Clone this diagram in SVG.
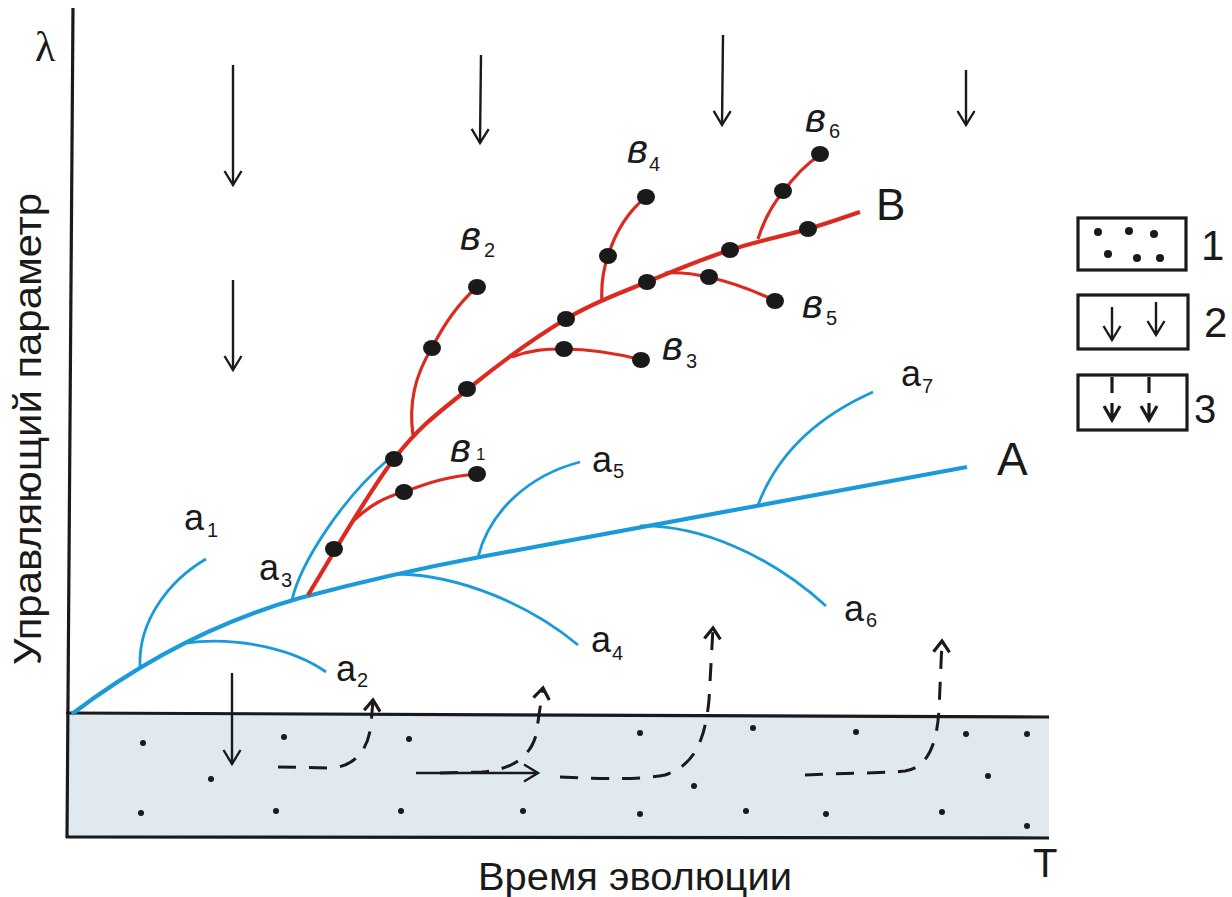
<svg xmlns="http://www.w3.org/2000/svg" width="1232" height="897" viewBox="0 0 1232 897">
<style>
.t{font-family:"Liberation Sans",Arial,sans-serif;fill:#1a1a1a}
.ax{stroke:#1a1a1a;stroke-width:3.2;fill:none}
.blue{stroke:#1a9ad8;fill:none;stroke-width:2.8;stroke-linecap:butt}
.blueM{stroke:#1a9ad8;fill:none;stroke-width:4.2}
.red{stroke:#dc2a20;fill:none;stroke-width:3.2;stroke-linecap:butt}
.redM{stroke:#dc2a20;fill:none;stroke-width:4.2}
.dot{fill:#1a1a1a}
.arr{stroke:#1a1a1a;stroke-width:2.4;fill:none;marker-end:url(#thin)}
.dash{stroke:#1a1a1a;stroke-width:3;fill:none;stroke-dasharray:18 13;marker-end:url(#chev)}
.sd{fill:#1a1a1a}
</style>
<defs>
<marker id="thin" markerUnits="userSpaceOnUse" orient="auto" overflow="visible" markerWidth="20" markerHeight="20" refX="0" refY="0">
<path d="M-14,-8.5 L0,0 L-14,8.5" fill="none" stroke="#1a1a1a" stroke-width="2.4"/>
</marker>
<marker id="chev" markerUnits="userSpaceOnUse" orient="auto" overflow="visible" markerWidth="20" markerHeight="20" refX="0" refY="0">
<path d="M-11,-8 L0,0 L-11,8" fill="none" stroke="#1a1a1a" stroke-width="3.2" stroke-dasharray="none"/>
</marker>
</defs>
<rect width="1232" height="897" fill="#ffffff"/>

<g id="substrate">
<path d="M66,713 L1049,717 L1049,838 L66,837 Z" fill="#e0e9ef"/>
<line x1="66" y1="713" x2="1049" y2="717" class="ax"/>
<line x1="66" y1="837" x2="1049" y2="838" class="ax"/>
<g class="sd">
<circle cx="143" cy="743" r="3"/><circle cx="284" cy="737" r="3"/><circle cx="409" cy="739" r="3"/>
<circle cx="211" cy="779" r="3"/><circle cx="141" cy="813" r="3"/><circle cx="276" cy="811" r="3"/>
<circle cx="401" cy="811" r="3"/><circle cx="523" cy="811" r="3"/><circle cx="640" cy="733" r="3"/>
<circle cx="753" cy="728" r="3"/><circle cx="856" cy="732" r="3"/><circle cx="966" cy="734" r="3"/>
<circle cx="1027" cy="734" r="3"/><circle cx="694" cy="786" r="3"/><circle cx="988" cy="776" r="3"/>
<circle cx="640" cy="814" r="3"/><circle cx="746" cy="811" r="3"/><circle cx="826" cy="814" r="3"/>
<circle cx="942" cy="812" r="3"/><circle cx="1027" cy="826" r="3"/>
</g>
</g>

<g id="axes">
<line x1="73" y1="8" x2="67" y2="838" class="ax"/>
<text x="35" y="61" font-family="Liberation Serif,Times New Roman,serif" font-size="42" fill="#1a1a1a">λ</text>
<text class="t" font-size="38" text-anchor="middle" textLength="472" lengthAdjust="spacingAndGlyphs" transform="translate(41,429) rotate(-90)">Управляющий параметр</text>
<text class="t" x="478" y="890" font-size="39" textLength="314" lengthAdjust="spacingAndGlyphs">Время эволюции</text>
<text class="t" x="1033" y="877" font-size="40">T</text>
</g>

<g id="curve-A">
<path class="blueM" d="M72,714 Q180,632 300,598 Q390,574 480,557 L967,467"/>
<path class="blue" d="M140,667 C138,620 170,580 206,559"/>
<path class="blue" d="M185,643 C240,636 295,650 326,672"/>
<path class="blue" d="M292,600 C300,565 340,500 390,458"/>
<path class="blue" d="M397,574 C460,575 530,605 578,645"/>
<path class="blue" d="M478,557 C490,510 530,475 580,462"/>
<path class="blue" d="M640,526 C700,525 770,555 826,606"/>
<path class="blue" d="M758,505 C775,460 810,420 873,392"/>
</g>

<g id="curve-B">
<path class="redM" d="M308,595 C322.3,572.3 367.3,493.3 394,459 C420.7,424.7 439.3,412.3 468,389 C496.7,365.7 536.2,336.8 566,319 C595.8,301.2 619.7,293.5 647,282 C674.3,270.5 703.2,258.8 730,250 C756.8,241.2 786.3,235.3 808,229 C829.7,222.7 851.3,214.8 860,212"/>
<path class="red" stroke-width="2.8" d="M352,522 C370,505 385,497 404,492 C430,482 450,476 477,474"/>
<path class="red" stroke-width="3.8" d="M413,435 C408,400 418,370 432,348 C445,322 460,302 477,287"/>
<path class="red" stroke-width="2.8" d="M512,357 C530,350 545,349 564,349 C590,349 615,353 642,360"/>
<path class="red" d="M602,302 C601,285 603,270 608,256 C616,230 630,210 646,197"/>
<path class="red" d="M665,273 C680,272 695,274 708,277 C735,283 755,291 775,301"/>
<path class="red" d="M758,239 C764,220 772,205 783,192 C795,175 808,163 821,154"/>
<g class="dot">
<ellipse cx="334" cy="549" rx="9" ry="8"/><ellipse cx="394" cy="459" rx="9" ry="8"/>
<ellipse cx="467" cy="389" rx="9" ry="8"/><ellipse cx="566" cy="319" rx="9" ry="8"/>
<ellipse cx="647" cy="282" rx="9" ry="8"/><ellipse cx="730" cy="250" rx="9" ry="8"/>
<ellipse cx="808" cy="229" rx="9" ry="8"/>
<ellipse cx="404" cy="492" rx="9" ry="8"/><ellipse cx="477" cy="474" rx="9" ry="8"/>
<ellipse cx="432" cy="348" rx="9" ry="8"/><ellipse cx="477" cy="287" rx="9" ry="8"/>
<ellipse cx="564" cy="349" rx="9" ry="8"/><ellipse cx="641" cy="360" rx="9" ry="8"/>
<ellipse cx="608" cy="256" rx="9" ry="8"/><ellipse cx="646" cy="197" rx="9" ry="8"/>
<ellipse cx="709" cy="277" rx="9" ry="8"/><ellipse cx="775" cy="301" rx="9" ry="8"/>
<ellipse cx="783" cy="191" rx="9" ry="8"/><ellipse cx="820" cy="154" rx="9" ry="8"/>
</g>
</g>

<g id="labels">
<text class="t" x="997" y="475" font-size="46">A</text>
<text class="t" x="876" y="220" font-size="44">B</text>
<g font-size="36">
<text class="t" x="184" y="530">a<tspan x="207" y="537" font-size="20">1</tspan></text>
<text class="t" x="336" y="681">a<tspan x="357" y="687" font-size="20">2</tspan></text>
<text class="t" x="259" y="580">a<tspan x="281" y="587" font-size="20">3</tspan></text>
<text class="t" x="591" y="652">a<tspan x="612" y="660" font-size="20">4</tspan></text>
<text class="t" x="592" y="472">a<tspan x="613" y="478" font-size="20">5</tspan></text>
<text class="t" x="844" y="621">a<tspan x="866" y="627" font-size="20">6</tspan></text>
<text class="t" x="901" y="386">a<tspan x="922" y="393" font-size="20">7</tspan></text>
</g>
<g font-size="40" font-style="italic">
<text class="t" x="450" y="462">в<tspan x="476" y="460" font-size="17" font-style="normal">1</tspan></text>
<text class="t" x="460" y="250">в<tspan x="484" y="257" font-size="20" font-style="normal">2</tspan></text>
<text class="t" x="662" y="360">в<tspan x="686" y="368" font-size="20" font-style="normal">3</tspan></text>
<text class="t" x="627" y="163">в<tspan x="649" y="171" font-size="20" font-style="normal">4</tspan></text>
<text class="t" x="802" y="318">в<tspan x="826" y="325" font-size="20" font-style="normal">5</tspan></text>
<text class="t" x="805" y="132">в<tspan x="829" y="138" font-size="20" font-style="normal">6</tspan></text>
</g>
</g>

<g id="connectors">
<line class="arr" x1="233" y1="65" x2="233" y2="185"/>
<line class="arr" x1="481" y1="55" x2="480" y2="143"/>
<line class="arr" x1="723" y1="35" x2="722" y2="125"/>
<line class="arr" x1="966" y1="70" x2="966" y2="125"/>
<line class="arr" x1="233" y1="280" x2="233" y2="370"/>
<line class="arr" x1="232" y1="673" x2="232" y2="764"/>
<line class="arr" x1="416" y1="773" x2="538" y2="773"/>
<path class="dash" d="M278,767 L330,768 C355,767 368,750 371,725 L373,700"/>
<path class="dash" d="M440,773 L482,772 C510,770 530,758 536,735 L543,688"/>
<path class="dash" d="M560,777 C600,779 640,780 665,775 C695,765 705,740 709,700 L713,628"/>
<path class="dash" d="M805,775 C850,773 890,773 905,771 C930,767 937,740 939,710 L942,641"/>
</g>

<g id="legend">
<g id="legend-1">
<rect x="1078" y="218" width="108" height="52" fill="none" class="ax"/>
<g class="dot">
<circle cx="1098" cy="232" r="4"/><circle cx="1129" cy="231" r="4"/><circle cx="1154" cy="234" r="4"/>
<circle cx="1108" cy="254" r="4"/><circle cx="1137" cy="258" r="4"/><circle cx="1160" cy="258" r="4"/>
</g>
<text class="t" x="1201" y="260" font-size="42">1</text>
</g>
<g id="legend-2">
<rect x="1078" y="295" width="110" height="54" fill="none" class="ax"/>
<line class="arr" x1="1112" y1="307" x2="1112" y2="340"/>
<line class="arr" x1="1156" y1="302" x2="1156" y2="335"/>
<text class="t" x="1204" y="337" font-size="42">2</text>
</g>
<g id="legend-3">
<rect x="1078" y="375" width="109" height="55" fill="none" class="ax"/>
<line x1="1112" y1="377" x2="1112" y2="393" class="ax" stroke-width="3.6"/>
<line x1="1149" y1="377" x2="1149" y2="393" class="ax" stroke-width="3.6"/>
<path d="M1104,406 L1112,420 L1120,406 M1112,403 L1112,420 M1141,406 L1149,420 L1157,406 M1149,403 L1149,420" class="ax" stroke-width="3.6"/>
<text class="t" x="1194" y="423" font-size="40">3</text>
</g>
</g>
</svg>
